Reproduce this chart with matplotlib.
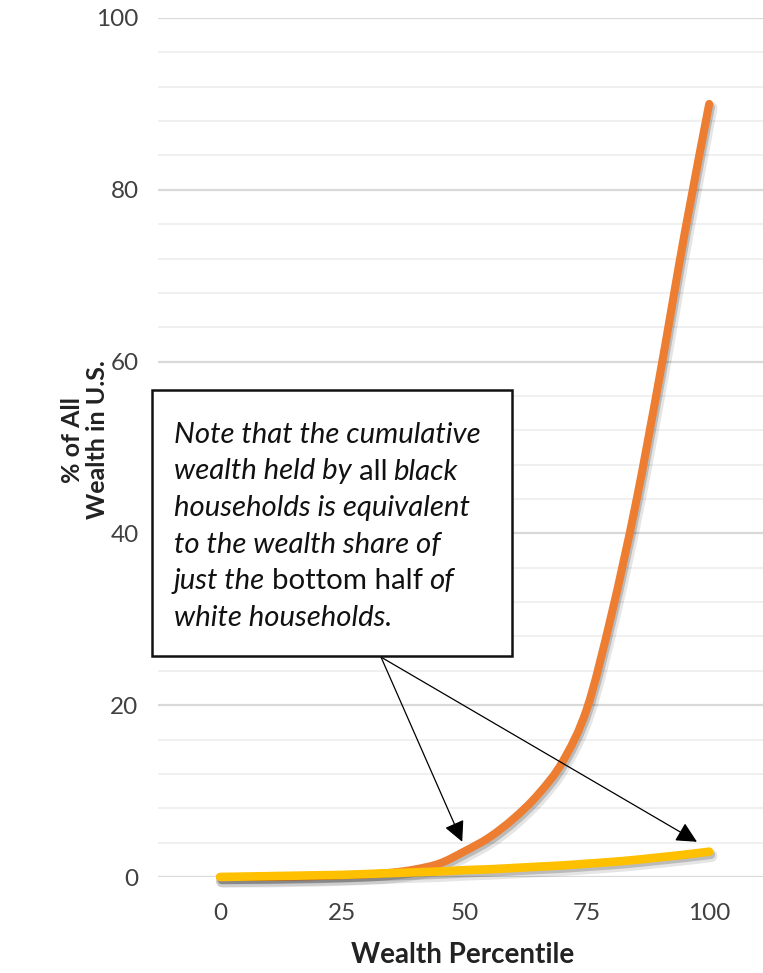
import matplotlib
matplotlib.use("Agg")
import numpy as np
import matplotlib.pyplot as plt
import matplotlib.patheffects as pe
from matplotlib.transforms import IdentityTransform
from matplotlib.patches import Rectangle, FancyArrowPatch, PathPatch
from matplotlib.path import Path

# ---- data ----
percentile = [0, 5, 10, 15, 20, 25, 30, 35, 40, 45, 50, 55, 60, 65, 70, 75, 80, 85, 90, 95, 100]
white_share = [0, 0, 0, 0.05, 0.1, 0.2, 0.3, 0.5, 0.9, 1.6, 3.0, 4.6, 6.8, 9.6, 13.4, 19.6, 30.5, 43.5, 58.7, 75.0, 90]
black_share = [0, 0.05, 0.1, 0.15, 0.2, 0.25, 0.35, 0.45, 0.55, 0.65, 0.8, 0.9, 1.05, 1.2, 1.35, 1.55, 1.75, 2.0, 2.3, 2.6, 2.95]
x_ticks = [0, 25, 50, 75, 100]
y_ticks = [0, 20, 40, 60, 80, 100]
x_label = "Wealth Percentile"
y_label = "% of All\nWealth in U.S."
note_lines = [
    [("Note that the cumulative", "italic")],
    [("wealth held by", "italic"), ("all", "normal"), ("black", "italic")],
    [("households is equivalent", "italic")],
    [("to the wealth share of", "italic")],
    [("just the", "italic"), ("bottom half", "normal"), ("of", "italic")],
    [("white households.", "italic")],
]
arrow_start = (32.9, 25.6)
arrow_tips = [(49.5, 4.1), (97.5, 4.1)]

W, H = 763, 973
fig = plt.figure(figsize=(W / 100, H / 100), dpi=100)
fig.patch.set_facecolor("white")

def fx(px):
    return px / W

def fy(py):
    return 1 - py / H

ax = fig.add_axes([fx(158), fy(877), fx(763) - fx(158), fy(18) - fy(877)])
ax.set_xlim(-12.7, 111.0)
ax.set_ylim(0, 100)
for s in ax.spines.values():
    s.set_visible(False)

# gridlines
for v in range(0, 101, 4):
    if v % 20 == 0:
        ax.axhline(v, color="#d9d9d9", lw=1.6, zorder=0)
    else:
        ax.axhline(v, color="#f0f0f0", lw=1.4, zorder=0)

ax.set_xticks(x_ticks)
ax.set_yticks(y_ticks)
ax.tick_params(axis="both", length=0, labelsize=17.5, labelcolor="#404040")
ax.tick_params(axis="y", pad=14)
ax.tick_params(axis="x", pad=19)
for lab in ax.get_xticklabels() + ax.get_yticklabels():
    lab.set_family("Lato")


def smooth_path(xs, ys, tension=1.0 / 6.0):
    """Excel-like smoothed line: Catmull-Rom spline as cubic Bezier segments."""
    xs = np.asarray(xs, float)
    ys = np.asarray(ys, float)
    pts = np.column_stack([xs, ys])
    n = len(pts)
    verts = [pts[0]]
    codes = [Path.MOVETO]
    for i in range(n - 1):
        p0 = pts[i - 1] if i > 0 else pts[i]
        p1 = pts[i]
        p2 = pts[i + 1]
        p3 = pts[i + 2] if i + 2 < n else pts[i + 1]
        c1 = p1 + (p2 - p0) * tension
        c2 = p2 - (p3 - p1) * tension
        verts += [c1, c2, p2]
        codes += [Path.CURVE4] * 3
    return Path(verts, codes)


shadow = [
    pe.SimpleLineShadow(offset=(1.5, -3.0), shadow_color="black", alpha=0.10, linewidth=9),
    pe.SimpleLineShadow(offset=(1.2, -2.2), shadow_color="black", alpha=0.18),
    pe.Normal(),
]
for xs, ys, col, lw, z in [(percentile, white_share, "#ED7D31", 5.8, 3),
                            (percentile, black_share, "#FFC000", 6.2, 4)]:
    patch = PathPatch(smooth_path(xs, ys), facecolor="none", edgecolor=col, lw=lw,
                      capstyle="round", joinstyle="round", clip_on=False, zorder=z,
                      transform=ax.transData, path_effects=shadow)
    ax.add_patch(patch)

# arrows
for tip in arrow_tips:
    arr = FancyArrowPatch(arrow_start, tip, arrowstyle="-|>,head_length=0.9,head_width=0.45",
                          mutation_scale=14, color="black", lw=0.9, zorder=6,
                          shrinkA=0, shrinkB=0)
    ax.add_patch(arr)

# axis labels
fig.text(fx(463), fy(955), x_label, ha="center", va="center", fontsize=20,
         fontweight="bold", family="Lato", color="#222222")
fig.text(fx(85), fy(440), y_label, ha="center", va="center", rotation=90,
         fontsize=18, fontweight="bold", family=["Liberation Sans Narrow", "Lato"],
         color="#222222", linespacing=1.1)

# note box
box = Rectangle((fx(152), fy(656)), fx(512) - fx(152), fy(390) - fy(656),
                transform=fig.transFigure, facecolor="white", edgecolor="#111111",
                lw=1.8, zorder=10)
fig.patches.append(box)

fig.canvas.draw()
renderer = fig.canvas.get_renderer()

def measure(txt, style, size):
    t = fig.text(0, 0, txt, fontsize=size, style=style, family="Lato", transform=IdentityTransform())
    w = t.get_window_extent(renderer).width
    t.remove()
    return w

# size so that the first line spans ~308 px
size = 18.0
w1 = measure(note_lines[0][0][0], "italic", size)
size = size * 308.0 / w1

space_w = {st: measure("x x", st, size) - measure("xx", st, size) for st in ("italic", "normal")}

x0 = 174
base0 = H - 443
for i, line in enumerate(note_lines):
    x = x0
    y = base0 - i * 36.5
    for j, (txt, st) in enumerate(line):
        if j > 0:
            x += space_w[st] * 0.9
        t = fig.text(x, y, txt, fontsize=size, style=st, family="Lato", color="#111111",
                     transform=IdentityTransform(), va="baseline", ha="left", zorder=11)
        x += t.get_window_extent(renderer).width

fig.savefig("out.png", dpi=100, facecolor="white")
